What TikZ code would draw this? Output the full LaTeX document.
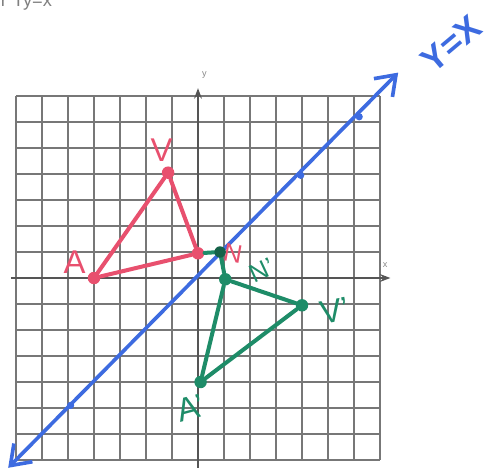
\documentclass[tikz,border=0pt]{standalone}
\usepackage{fontspec}
\setsansfont{Liberation Sans}
\usetikzlibrary{positioning,arrows.meta}

\definecolor{pen}{HTML}{E8506E}
\definecolor{image}{HTML}{1E8C68}
\definecolor{mirror}{HTML}{3D6BE0}
\definecolor{paper}{HTML}{555555}

\begin{document}
\begin{tikzpicture}[
  x=0.5cm, y=0.5cm,
  pt/.style={circle, fill, inner sep=0pt, minimum size=2.4mm},
  side/.style={line width=2.2pt, line cap=round, line join=round},
  hand/.style={font=\sffamily\fontsize{18}{18}\selectfont},
  small hand/.style={font=\sffamily\fontsize{14}{14}\selectfont},
  axis/.style={-{Stealth[length=2mm]}, paper, line width=0.9pt},
  every node/.style={font=\sffamily\small}
]
\useasboundingbox (-7.615,-7.385) rectangle (11.308,10.692);

% grid paper
\draw[paper!80, line width=0.6pt, step=0.5cm] (-7,-7) grid (7,7);
\draw[axis] (-7.2,0) -- (7.4,0);
\draw[axis] (0,-7.3) -- (0,7.3);
\node[paper!70, font=\sffamily\tiny] (xlab) at (7.2,0.5) {x};
\node[paper!70, font=\sffamily\tiny] (ylab) at (0.25,7.8) {y};

% heading, cut off at the top
\node[anchor=north west, gray, font=\sffamily\fontsize{10}{10}\selectfont, inner sep=0pt] (head) at (-7.6,10.95) {r\,\,Ty=x};

% mirror line
\coordinate (m1) at (-7.3,-7.3);
\coordinate (m2) at (7.7,7.9);
\draw[mirror, line width=2pt, {Straight Barb[length=3.5mm,width=5mm]}-{Straight Barb[length=3.5mm,width=5mm]}] (m1) -- (m2);
\foreach \t in {-4.9,3.95,6.2}
  \fill[mirror] (\t,\t) circle (0.14);
\node[mirror, font=\sffamily\bfseries\fontsize{19}{19}\selectfont, rotate=40] (mlab) at (9.75,9.0) {Y=X};

% pre-image
\node[pt, pen] (A) at (-4,0) {};
\node[pt, pen] (V) at (-1.15,4.05) {};
\node[pt, pen] (N) at (0,0.95) {};
\draw[side, pen] (A) -- (V) -- (N) -- (A);
\node[pen, hand] (Alab) at (-4.75,0.6) {A};
\node[pen, hand] (Vlab) at (-1.4,4.9) {V};
\node[pen, small hand, rotate=-10] (Nlab) at (1.35,0.95) {N};

% image
\node[pt, image] (A') at (0.1,-4.0) {};
\node[pt, image] (V') at (4,-1.05) {};
\node[pt, image] (N') at (1.05,-0.05) {};
\coordinate (slip) at (0.85,1.0);
\draw[side, image] (N) -- (slip) -- (N');
\fill[image!70!black] (slip) circle (0.22);
\draw[side, image] (A') -- (V') -- (N') -- (A');
\node[image, hand, rotate=15] (A'lab) at (-0.3,-5.0) {A'};
\node[image, hand, rotate=10] (V'lab) at (5.25,-1.25) {V'};
\node[image, small hand, rotate=25] (N'lab) at (2.45,0.3) {N'};

\end{tikzpicture}
\end{document}
